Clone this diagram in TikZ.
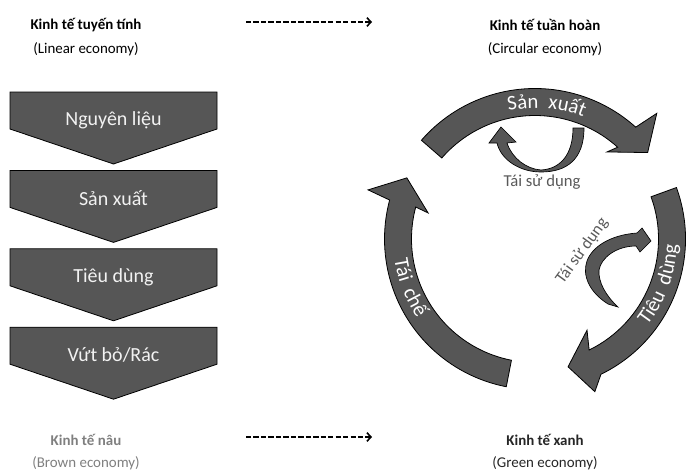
\documentclass[tikz,border=0pt]{standalone}
\usepackage{fontspec}
\setmainfont{Carlito}
\usetikzlibrary{calc,arrows.meta,decorations.text}
\definecolor{arrowgray}{RGB}{86,86,86}
\definecolor{labelgray}{RGB}{89,89,89}
\definecolor{browngray}{RGB}{127,127,127}
\newcommand\arclabel{\fontsize{15.5}{17}\selectfont\color{white}}
\tikzset{
  head/.style={font=\bfseries\fontsize{11.2}{13}\selectfont},
  sub/.style={font=\fontsize{11.2}{13}\selectfont},
  trend/.style={line width=1.2pt,dash pattern=on 4pt off 1.6pt,-{Straight Barb[length=3pt,width=6.5pt]}},
  stagebox/.style={fill=arrowgray,draw=black,line width=0.6pt},
  stagetext/.style={text=white!95!black,font=\fontsize{15}{18}\selectfont},
  cycarrow/.style={fill=arrowgray,draw=black,line width=0.6pt},
  recyc/.style={fill=arrowgray,draw=black,line width=0.5pt},
  reuse/.style={text=labelgray,font=\fontsize{12.5}{14}\selectfont}
}
\begin{document}
\begin{tikzpicture}[x=0.75pt,y=0.75pt]
\useasboundingbox (0,0) rectangle (689,-475);
\node[head] (lin) at (86,-25) {Kinh tế tuyến tính};
\node[sub] (linen) at (86,-49) {(Linear economy)};
\node[head] (circ) at (545,-25) {Kinh tế tuần hoàn};
\node[sub] (circen) at (545,-49) {(Circular economy)};
\node[head,text=browngray] (brown) at (86,-440) {Kinh tế nâu};
\node[sub,text=browngray] (brownen) at (86,-463) {(Brown economy)};
\node[head,text=black!85] (green) at (545,-440) {Kinh tế xanh};
\node[sub,text=black!85] (greenen) at (545,-463) {(Green economy)};
\coordinate (t1) at (246,-22);
\coordinate (t2) at (372,-22);
\coordinate (b1) at (246,-437);
\coordinate (b2) at (372,-437);
\draw[trend] (t1) -- (t2);
\draw[trend] (b1) -- (b2);
\foreach \t [count=\i] in {Nguyên liệu,Sản xuất,Tiêu dùng,Vứt bỏ/Rác} {
  \pgfmathsetmacro\y{-92-78.4*(\i-1)}
  \draw[stagebox] (10,\y) -- (217,\y) -- (217,\y-37) -- (113.5,\y-72) -- (10,\y-37) -- cycle;
  \node[stagetext] (st\i) at (113.5,\y-28) {\t};
}
\begin{scope}[shift={(535,-239)}]
\filldraw[cycarrow] (139:150.5) arc[start angle=139,end angle=48,radius=150.5] -- (45.9:175) -- (37.5:142) -- (50.4:113) -- (48:123.5) arc[start angle=48,end angle=139,radius=123.5] -- cycle;
\filldraw[cycarrow] (20:150.5) arc[start angle=20,end angle=-64,radius=150.5] -- (-68.6:164) -- (-75.5:132) -- (-60.3:105) -- (-64:123.5) arc[start angle=-64,end angle=20,radius=123.5] -- cycle;
\filldraw[cycarrow] (259:150.5) arc[start angle=259,end angle=165,radius=150.5] -- (163.6:174) -- (154.5:142) -- (166.3:110) -- (165:123.5) arc[start angle=165,end angle=259,radius=123.5] -- cycle;
\path[decorate,decoration={text along path,text align=center,text={|\arclabel|Sản{\ }{\ }xuất}}] (130:131) arc[start angle=130,end angle=40,radius=131];
\path[decorate,decoration={text along path,text align=center,text={|\arclabel|Tiêu{\ }{\ }dùng}}] (-60:142) arc[start angle=-60,end angle=20,radius=142];
\path[decorate,decoration={text along path,text align=center,text={|\arclabel|Tái{\ }{\ }chế}}] (160:142) arc[start angle=160,end angle=242,radius=142];
\end{scope}
\filldraw[recyc] (584,-128) .. controls (584,-160) and (566,-172) .. (541,-172)
  .. controls (520,-172) and (501,-160) .. (497,-143)
  -- (489,-143) -- (501,-127) -- (516,-142) -- (507,-143)
  .. controls (512,-158) and (526,-169) .. (541,-170)
  .. controls (560,-169) and (573,-155) .. (573,-128) -- cycle;
\filldraw[recyc] (608,-304) .. controls (589,-292) and (582,-275) .. (587,-261)
  .. controls (592,-247) and (610,-235) .. (637,-233)
  -- (642,-228) -- (651,-241) -- (640,-252) -- (636,-246)
  .. controls (616,-246) and (601,-258) .. (599,-270)
  .. controls (598,-282) and (606,-296) .. (618,-307) -- cycle;
\node[reuse] (reuse1) at (542,-182) {Tái sử dụng};
\node[reuse,rotate=54] (reuse2) at (582,-251) {Tái sử dụng};
\end{tikzpicture}
\end{document}
